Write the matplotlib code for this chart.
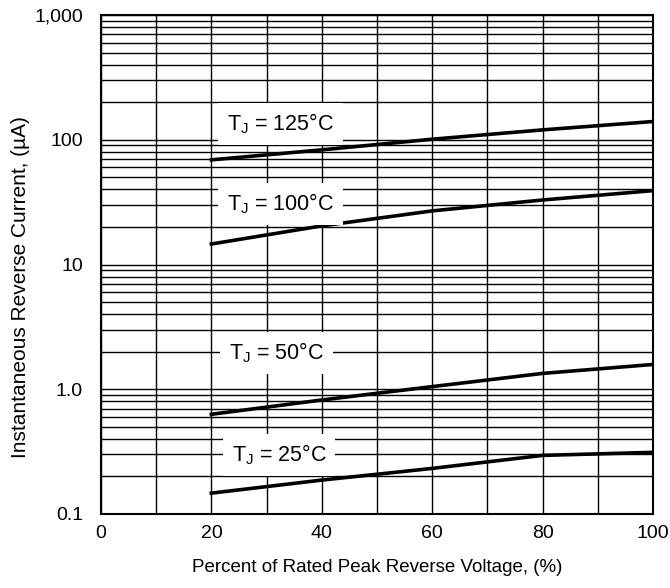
import matplotlib
matplotlib.use("Agg")
import matplotlib.pyplot as plt
import numpy as np
from matplotlib.ticker import FixedLocator, NullFormatter, LogLocator

plt.rcParams['font.family'] = ['Liberation Sans', 'DejaVu Sans']
plt.rcParams['mathtext.fontset'] = 'custom'
plt.rcParams['mathtext.rm'] = 'Liberation Sans'

# Data
voltage_pct = [20, 40, 60, 80, 100]
i_125 = [69, 83, 101, 120, 140]
i_100 = [14.6, 20.4, 26.9, 32.9, 39.1]
i_50 = [0.63, 0.82, 1.05, 1.34, 1.58]
i_25 = [0.147, 0.187, 0.232, 0.295, 0.312]

series = [i_125, i_100, i_50, i_25]
labels = ['125', '100', '50', '25']
label_x = [32.5, 32.5, 31.8, 32.3]
label_y = [134, 30.5, 1.95, 0.297]

x_ticks = [0, 20, 40, 60, 80, 100]
y_ticks = [0.1, 1.0, 10, 100, 1000]
y_ticklabels = ['0.1', '1.0', '10', '100', '1,000']

fig = plt.figure(figsize=(6.7, 5.88), dpi=100)
ax = fig.add_axes([101/670, 1-514/588, 552/670, 499/588])
ax.set_yscale('log')
ax.set_xlim(0, 100)
ax.set_ylim(0.1, 1000)

ax.xaxis.set_major_locator(FixedLocator(x_ticks))
ax.xaxis.set_minor_locator(FixedLocator(np.arange(0, 101, 10)))
ax.yaxis.set_major_locator(FixedLocator(y_ticks))
ax.set_yticklabels(y_ticklabels)
ax.yaxis.set_minor_locator(LogLocator(base=10, subs=np.arange(2, 10)))
ax.yaxis.set_minor_formatter(NullFormatter())

ax.grid(True, which='both', color='black', linewidth=1.0)
ax.set_axisbelow(True)
ax.tick_params(which='both', length=0, labelsize=14)
ax.tick_params(axis='y', pad=13)
ax.tick_params(axis='x', pad=8)
for s in ax.spines.values():
    s.set_linewidth(1.5)

for ys in series:
    ax.plot(voltage_pct, ys, color='black', linewidth=2.6, zorder=3)

for lab, lx, ly in zip(labels, label_x, label_y):
    ax.text(lx, ly, r'T$_\mathregular{J}$ = ' + lab + '°C', fontsize=15.5,
            ha='center', va='center', zorder=4,
            bbox=dict(boxstyle='square,pad=0.4', facecolor='white', edgecolor='none'))

ax.set_xlabel('Percent of Rated Peak Reverse Voltage, (%)', fontsize=13.5, labelpad=12)
ax.set_ylabel('Instantaneous Reverse Current, (µA)', fontsize=15)
ax.yaxis.set_label_coords(-0.128, 0.455)

fig.savefig('out.png', dpi=100)
